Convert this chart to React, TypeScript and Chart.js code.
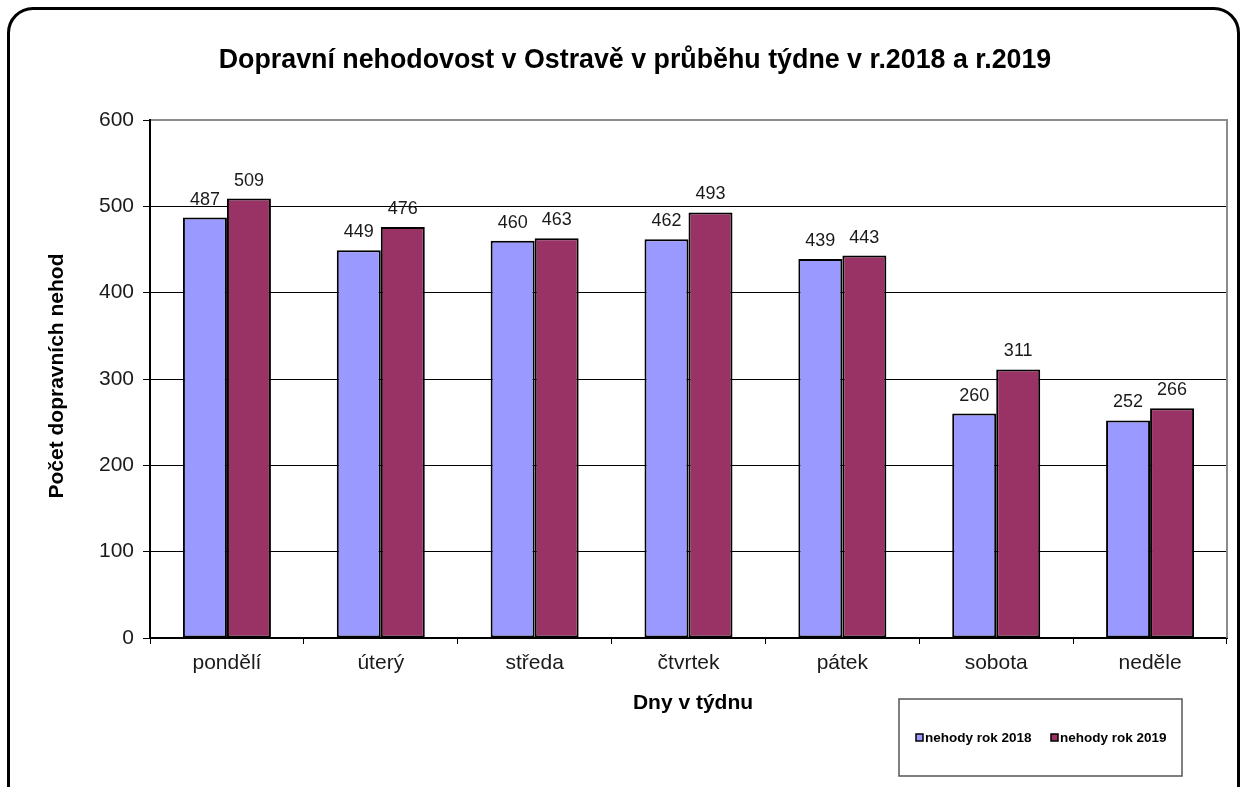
import React, { useEffect, useRef } from "react";
import { Chart, registerables } from "chart.js";

Chart.register(...registerables);

const categories = ["pondělí", "úterý", "středa", "čtvrtek", "pátek", "sobota", "neděle"];
const values2018 = [487, 449, 460, 462, 439, 260, 252];
const values2019 = [509, 476, 463, 493, 443, 311, 266];
const seriesNames = ["nehody rok 2018", "nehody rok 2019"];
const yTicks = [0, 100, 200, 300, 400, 500, 600];
const chartTitle = "Dopravní nehodovost v Ostravě v průběhu týdne v r.2018 a r.2019";
const xTitle = "Dny v týdnu";
const yTitle = "Počet dopravních nehod";

const FONT = "'Liberation Sans', Arial, sans-serif";

const customPlugin = {
  id: "customDecor",
  afterDraw(chart: any) {
    const ctx = chart.ctx as CanvasRenderingContext2D;
    const ca = chart.chartArea;
    ctx.save();
    // plot border (top, right) gray
    ctx.strokeStyle = "#8c8c8c";
    ctx.lineWidth = 2;
    ctx.beginPath();
    ctx.moveTo(ca.left + 1, ca.top);
    ctx.lineTo(ca.right, ca.top);
    ctx.lineTo(ca.right, ca.bottom);
    ctx.stroke();

    // data labels
    ctx.fillStyle = "#1a1a1a";
    ctx.font = `18px ${FONT}`;
    ctx.textAlign = "center";
    ctx.textBaseline = "bottom";
    chart.data.datasets.forEach((ds: any, i: number) => {
      const meta = chart.getDatasetMeta(i);
      meta.data.forEach((el: any, j: number) => {
        ctx.fillText(String(ds.data[j]), el.x, el.y - 9);
      });
    });

    // title
    ctx.fillStyle = "#000";
    ctx.font = `bold 26.8px ${FONT}`;
    ctx.textBaseline = "middle";
    ctx.fillText(chartTitle, 635, 61);

    // x title
    ctx.font = `bold 21px ${FONT}`;
    ctx.fillText(xTitle, 693, 703);

    // y title
    ctx.save();
    ctx.translate(57, 376);
    ctx.rotate(-Math.PI / 2);
    ctx.fillText(yTitle, 0, 0);
    ctx.restore();

    // legend box
    const lx = 899, ly = 699, lw = 283, lh = 77;
    ctx.strokeStyle = "#555";
    ctx.lineWidth = 1.5;
    ctx.strokeRect(lx, ly, lw, lh);
    const itemX = [916, 1051];
    const cy = 738;
    ctx.font = `bold 13.5px ${FONT}`;
    ctx.textAlign = "left";
    chart.data.datasets.forEach((ds: any, i: number) => {
      const x = itemX[i];
      ctx.fillStyle = ds.backgroundColor;
      ctx.fillRect(x, cy - 4, 7, 7);
      ctx.strokeStyle = "#000";
      ctx.lineWidth = 1.5;
      ctx.strokeRect(x, cy - 4, 7, 7);
      ctx.fillStyle = "#000";
      ctx.fillText(ds.label, x + 9, cy);
    });
    ctx.restore();
  },
};

export default function App() {
  const ref = useRef<HTMLCanvasElement | null>(null);
  useEffect(() => {
    if (!ref.current) return;
    const chart = new Chart(ref.current, {
      type: "bar",
      data: {
        labels: categories,
        datasets: [
          {
            label: seriesNames[0],
            data: values2018,
            backgroundColor: "#9999FF",
            borderColor: "#000",
            borderWidth: 2,
            borderSkipped: false,
            categoryPercentage: 0.572,
            barPercentage: 1.0,
          },
          {
            label: seriesNames[1],
            data: values2019,
            backgroundColor: "#993366",
            borderColor: "#000",
            borderWidth: 2,
            borderSkipped: false,
            categoryPercentage: 0.572,
            barPercentage: 1.0,
          },
        ],
      },
      options: {
        responsive: false,
        animation: false,
        devicePixelRatio: 1,
        layout: { padding: { top: 120, right: 16, bottom: 69, left: 0 } },
        plugins: {
          legend: { display: false },
          title: { display: false },
          tooltip: { enabled: false },
        },
        scales: {
          x: {
            afterFit: (s: any) => {
              s.height = 80;
            },
            grid: {
              offset: true,
              drawOnChartArea: false,
              drawTicks: true,
              tickLength: 6,
              color: "#000",
            },
            border: { color: "#000", width: 2 },
            ticks: {
              color: "#1a1a1a",
              font: { family: FONT, size: 21 },
              padding: 7,
            },
          },
          y: {
            min: 0,
            max: 600,
            afterFit: (s: any) => {
              s.width = 150;
            },
            afterBuildTicks: (s: any) => {
              s.ticks = yTicks.map((v) => ({ value: v }));
            },
            grid: {
              color: "#000",
              lineWidth: 1,
              drawTicks: true,
              tickLength: 7,
            },
            border: { color: "#000", width: 2 },
            ticks: {
              color: "#1a1a1a",
              font: { family: FONT, size: 21 },
              padding: 9,
            },
          },
        },
      },
      plugins: [customPlugin],
    });
    return () => chart.destroy();
  }, []);

  return (
    <div
      style={{
        position: "absolute",
        left: 0,
        top: 0,
        width: 1243,
        height: 787,
        overflow: "hidden",
        background: "#fff",
      }}
    >
      <div
        style={{
          position: "absolute",
          left: 7,
          top: 7,
          width: 1233,
          height: 830,
          boxSizing: "border-box",
          border: "3px solid #000",
          borderRadius: 26,
        }}
      />
      <canvas
        ref={ref}
        width={1243}
        height={787}
        style={{ position: "absolute", left: 0, top: 0, width: 1243, height: 787 }}
      />
    </div>
  );
}
